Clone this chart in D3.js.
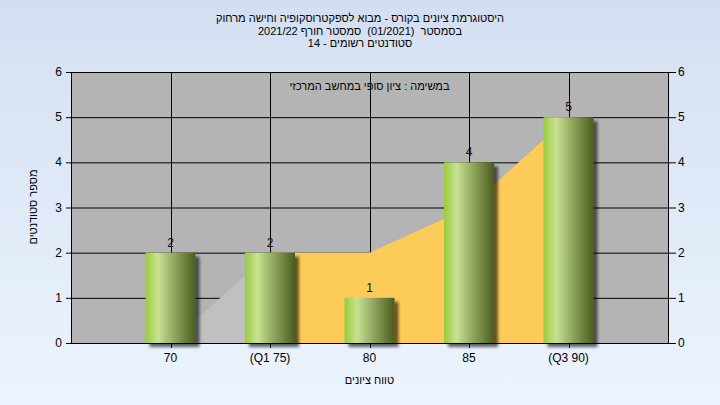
<!DOCTYPE html>
<html><head><meta charset="utf-8">
<script src="https://cdn.jsdelivr.net/npm/d3@7"></script>
<style>
html,body{margin:0;padding:0;}
svg text{font-family:"Liberation Sans",Arial,sans-serif;}
</style></head>
<body><svg id="c" width="720" height="405"></svg>
<script>
const categories = ["70", "(Q1 75)", "80", "85", "(Q3 90)"];
const counts = [2, 2, 1, 4, 5];
const bandValues = [0, 2, 2, 3, 5];
const q1Index = 1, q3Index = 4;
const yTicks = [0, 1, 2, 3, 4, 5, 6];
const titleLines = ["היסטוגרמת ציונים בקורס - מבוא לספקטרוסקופיה וחישה מרחוק", "בסמסטר  (01/2021)  סמסטר חורף 2021/22", "סטודנטים רשומים - 14"];
const subtitle = "במשימה : ציון סופי במחשב המרכזי";
const xTitle = "טווח ציונים";
const yTitle = "מספר סטודנטים";

const W = 720, H = 405;
const m = {l: 71, r: 668, t: 72, b: 343};
const svg = d3.select("#c");
const defs = svg.append("defs");

const bg = defs.append("linearGradient").attr("id","bg").attr("x1",0).attr("y1",0).attr("x2",0).attr("y2",1);
bg.append("stop").attr("offset","0%").attr("stop-color","#d3dff1");
bg.append("stop").attr("offset","100%").attr("stop-color","#ecf4fe");

const bar = defs.append("linearGradient").attr("id","bar").attr("x1",0).attr("y1",0).attr("x2",1).attr("y2",0);
[["0%","#9acb3b"],["25%","#c8e292"],["55%","#95ab62"],["100%","#4a5d1e"]].forEach(s=>bar.append("stop").attr("offset",s[0]).attr("stop-color",s[1]));

const f = defs.append("filter").attr("id","sh").attr("x","-20%").attr("y","-20%").attr("width","160%").attr("height","160%");
f.append("feGaussianBlur").attr("in","SourceAlpha").attr("stdDeviation",1.6).attr("result","b");
f.append("feOffset").attr("in","b").attr("dx",4).attr("dy",4).attr("result","o");
f.append("feComponentTransfer").attr("in","o").attr("result","o2").append("feFuncA").attr("type","linear").attr("slope",0.6);
const mg = f.append("feMerge"); mg.append("feMergeNode").attr("in","o2"); mg.append("feMergeNode").attr("in","SourceGraphic");

svg.append("rect").attr("width",W).attr("height",H).attr("fill","url(#bg)");

const x = d3.scalePoint().domain(categories).range([m.l, m.r]).padding(1);
const y = d3.scaleLinear().domain([0, 6]).range([m.b, m.t]);

svg.append("rect").attr("x",m.l).attr("y",m.t).attr("width",m.r-m.l).attr("height",m.b-m.t).attr("fill","#b4b4b4");

// gridlines
svg.append("g").selectAll("line.h").data(yTicks).join("line")
  .attr("x1",m.l-5).attr("x2",m.r+8).attr("y1",d=>y(d)+0.5).attr("y2",d=>y(d)+0.5)
  .attr("stroke","#000").attr("stroke-width",1);
svg.append("g").selectAll("line.v").data(categories).join("line")
  .attr("x1",d=>Math.round(x(d))+0.5).attr("x2",d=>Math.round(x(d))+0.5).attr("y1",m.t).attr("y2",m.b+5)
  .attr("stroke","#000").attr("stroke-width",1);

// area
const pts = categories.map((c,i)=>({c, v: bandValues[i], i}));
const area = d3.area().x(d=>x(d.c)).y0(y(0)).y1(d=>y(d.v));
svg.append("path").datum(pts.slice(0, q1Index+1)).attr("d",area).attr("fill","#c0c0c0");
svg.append("path").datum(pts.slice(q1Index, q3Index+1)).attr("d",area).attr("fill","#fdcb58");

// axes lines
svg.append("line").attr("x1",m.l+0.5).attr("x2",m.l+0.5).attr("y1",m.t).attr("y2",m.b).attr("stroke","#000");
svg.append("line").attr("x1",m.r+0.5).attr("x2",m.r+0.5).attr("y1",m.t).attr("y2",m.b).attr("stroke","#000");
svg.append("line").attr("x1",m.l).attr("x2",m.r).attr("y1",m.b+0.5).attr("y2",m.b+0.5).attr("stroke","#000");

// bars
const bw = 50;
svg.append("g").selectAll("rect").data(counts).join("rect")
  .attr("x",(d,i)=>x(categories[i])-bw/2).attr("width",bw)
  .attr("y",d=>y(d)).attr("height",d=>y(0)-y(d))
  .attr("fill","url(#bar)").attr("filter","url(#sh)");

svg.append("g").selectAll("text").data(counts).join("text")
  .attr("x",(d,i)=>x(categories[i])).attr("y",d=>y(d)-6)
  .attr("text-anchor","middle").attr("font-size",12).attr("fill","#111").text(d=>d);

// tick labels
svg.append("g").selectAll("text").data(yTicks).join("text")
  .attr("x",m.l-9).attr("y",d=>y(d)+4).attr("text-anchor","end").attr("font-size",12).text(d=>d);
svg.append("g").selectAll("text").data(yTicks).join("text")
  .attr("x",m.r+10).attr("y",d=>y(d)+4).attr("text-anchor","start").attr("font-size",12).text(d=>d);
svg.append("g").selectAll("text").data(categories).join("text")
  .attr("x",d=>x(d)).attr("y",m.b+19).attr("text-anchor","middle").attr("font-size",12)
  .attr("direction","ltr").text(d=>d);

// titles
svg.append("g").selectAll("text").data(titleLines).join("text")
  .attr("x",360).attr("y",(d,i)=>22+i*12.5).attr("text-anchor","middle").attr("font-size",11)
  .style("direction","rtl").style("white-space","pre").text(d=>d);
svg.append("text").attr("x",(m.l+m.r)/2).attr("y",90).attr("text-anchor","middle").attr("font-size",11)
  .style("direction","rtl").text(subtitle);
svg.append("text").attr("x",(m.l+m.r)/2).attr("y",384).attr("text-anchor","middle").attr("font-size",11)
  .style("direction","rtl").text(xTitle);
svg.append("text").attr("transform","translate(37,207) rotate(-90)").attr("text-anchor","middle").attr("font-size",11)
  .style("direction","rtl").text(yTitle);
</script></body></html>
